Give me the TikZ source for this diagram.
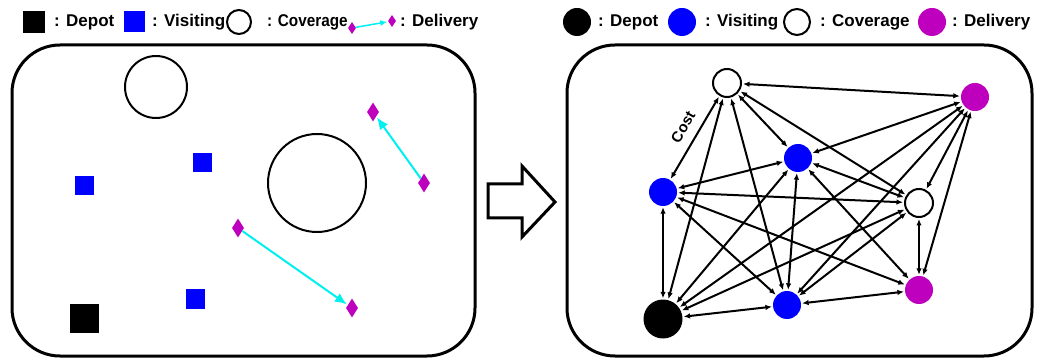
\documentclass[tikz,border=0pt]{standalone}
\usepackage{fontspec}
\setmainfont{Liberation Sans}
\usetikzlibrary{shapes.geometric,arrows.meta}
\definecolor{visit}{RGB}{0,0,255}
\definecolor{deliv}{RGB}{190,0,190}
\definecolor{link}{RGB}{0,240,240}
\begin{document}
\begin{tikzpicture}[x=1pt, y=-1pt,
    font=\fontsize{17}{20}\selectfont\bfseries,
    lbl/.style ={anchor=west, inner sep=0pt},
    panel/.style ={draw, line width=3pt, rounded corners=48pt},
    sqr/.style ={rectangle, inner sep=0pt, minimum size=#1},
    cov/.style ={draw, circle, line width=2pt, inner sep=0pt, minimum size=#1},
    dia/.style ={diamond, fill=deliv, inner sep=0pt, minimum width=#1},
    main/.style ={circle, inner sep=0pt, minimum size=28pt},
    pair/.style ={link, line width=2pt, -{Latex[length=12pt,width=10pt]}, shorten >=1pt},
    edge/.style ={line width=2pt, {Latex[length=6.5pt,width=5.5pt]}-{Latex[length=6.5pt,width=5.5pt]}, shorten <=1pt, shorten >=1pt}]
    \useasboundingbox (0,0) rectangle (1042,358);
    % left legend
    \node[sqr=22pt, fill=black] (k1) at (34,22) {};
    \node[lbl] at (54,22) {: Depot};
    \node[sqr=21pt, fill=visit] (k2) at (134,22) {};
    \node[lbl] at (152,22) {: Visiting};
    \node[cov=24pt] (k3) at (239,22) {};
    \node[lbl, xscale=0.9] at (267,22) {: Coverage};
    \node[dia=8pt, minimum height=12pt] (k4) at (352,28) {};
    \node[dia=8pt, minimum height=12pt] (k5) at (392,21) {};
    \draw[pair, line width=1.5pt, -{Latex[length=7pt,width=6pt]}] (k4) -- (k5);
    \node[lbl] at (400,22) {: Delivery};
    % left panel
    \draw[panel] (12,45) rectangle (475,356);
    \node[cov=62pt] (a) at (156,87) {};
    \node[cov=98pt] (b) at (317,183) {};
    \node[sqr=19pt, fill=visit] (s1) at (84,186) {};
    \node[sqr=19pt, fill=visit] (s2) at (202,163) {};
    \node[sqr=19pt, fill=visit] (s3) at (195,299) {};
    \node[sqr=29pt, fill=black] (s0) at (84,318) {};
    \node[dia=12pt, minimum height=19pt] (p1) at (373,112) {};
    \node[dia=12pt, minimum height=19pt] (p2) at (424,183) {};
    \node[dia=12pt, minimum height=19pt] (p3) at (238,228) {};
    \node[dia=12pt, minimum height=19pt] (p4) at (352,308) {};
    \draw[pair] (p2) -- (p1);
    \draw[pair] (p3) -- (p4);
    % big arrow
    \draw[line width=3pt, line join=miter] (488,184) -- (522,184) -- (522,166) -- (555,202)
        -- (522,237) -- (522,218) -- (488,218) -- cycle;
    % right legend
    \node[main, fill=black] (m1) at (577,22) {};
    \node[lbl] at (598,22) {: Depot};
    \node[main, fill=visit] (m2) at (682,22) {};
    \node[lbl] at (705,22) {: Visiting};
    \node[cov=26pt] (m3) at (797,22) {};
    \node[lbl] at (820,22) {: Coverage};
    \node[main, fill=deliv] (m4) at (932,22) {};
    \node[lbl] at (952,22) {: Delivery};
    % right panel
    \draw[panel] (567,45) rectangle (1032,356);
    \node[cov=28pt] (1) at (727,83) {};
    \node[main, fill=deliv] (2) at (975,97) {};
    \node[main, fill=visit] (3) at (798,158) {};
    \node[main, fill=visit] (4) at (663,192) {};
    \node[cov=28pt] (5) at (919,203) {};
    \node[main, fill=deliv] (6) at (919,290) {};
    \node[main, fill=visit] (7) at (787,305) {};
    \node[main, fill=black, minimum size=39pt] (8) at (663,319) {};
    \foreach \i/\j in {1/2,1/4,1/3,1/5,1/7,1/8,2/3,2/5,2/6,2/7,2/8,3/4,3/5,3/7,3/8,3/6,
        4/5,4/8,4/7,4/6,5/6,5/8,5/7,6/7,7/8}
        \draw[edge] (\i) -- (\j);
    \node[rotate=60, font=\fontsize{15}{17}\selectfont\bfseries] at (683,127) {Cost};
\end{tikzpicture}
\end{document}
